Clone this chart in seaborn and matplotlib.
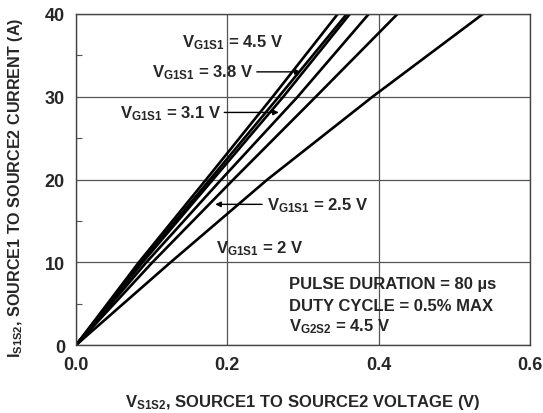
import numpy as np
import pandas as pd
import matplotlib
matplotlib.use('Agg')
import matplotlib.pyplot as plt
import seaborn as sns

# drain current steps (A) and the source-to-source voltage read at each step, per gate voltage
current = [0, 10, 20, 30, 40]
gate_v = ['4.5', '4.0', '3.8', '3.1', '2.5', '2']
v_45 = [0, 0.083, 0.172, 0.260, 0.346]
v_40 = [0, 0.086, 0.177, 0.268, 0.358]
v_38 = [0, 0.088, 0.181, 0.274, 0.362]
v_31 = [0, 0.093, 0.192, 0.293, 0.387]
v_25 = [0, 0.101, 0.208, 0.317, 0.425]
v_20 = [0, 0.125, 0.253, 0.392, 0.538]

xticks = [0.0, 0.2, 0.4, 0.6]
yticks = [0, 10, 20, 30, 40]

rows = []
for g, vs in zip(gate_v, [v_45, v_40, v_38, v_31, v_25, v_20]):
    for i, v in zip(current, vs):
        rows.append({'gate': g, 'vds': v, 'ids': i})
df = pd.DataFrame(rows)

sns.set_theme(style='white')
plt.rcParams['font.family'] = ['Liberation Sans', 'DejaVu Sans']
plt.rcParams['font.weight'] = 'bold'
plt.rcParams['mathtext.fontset'] = 'custom'
plt.rcParams['mathtext.rm'] = 'Liberation Sans:bold'
plt.rcParams['mathtext.bf'] = 'Liberation Sans:bold'
plt.rcParams['mathtext.default'] = 'rm'

fig = plt.figure(figsize=(5.43, 4.14), dpi=100)
ax = fig.add_axes([0.140, 0.164, 0.836, 0.800])

sns.lineplot(data=df, x='vds', y='ids', hue='gate', palette=['black'] * len(gate_v),
             linewidth=1.9, legend=False, ax=ax, sort=False, estimator=None)

ax.set_xlim(0, 0.6)
ax.set_ylim(0, 40)
ax.set_xticks(xticks)
ax.set_xticklabels([f'{t:.1f}' for t in xticks])
ax.set_yticks(yticks)
ax.set_yticks([5, 15, 25, 35], minor=True)
ax.grid(True, which='major', color='#555555', linewidth=0.9)
ax.tick_params(axis='both', which='major', labelsize=13, length=0, pad=8)
ax.tick_params(axis='y', which='minor', direction='in', length=4, width=0.8,
               color='#555555', left=True)
for lab in ax.get_xticklabels() + ax.get_yticklabels():
    lab.set_fontweight('bold')
for s in ax.spines.values():
    s.set_color('#444444')
    s.set_linewidth(1.0)

ax.set_xlabel(r'V$_{\rm S1S2}$, SOURCE1 TO SOURCE2 VOLTAGE (V)', fontsize=12,
              fontweight='bold')
ax.xaxis.set_label_coords(0.5, -0.142)
ax.set_ylabel(r'I$_{\rm S1S2}$, SOURCE1 TO SOURCE2 CURRENT (A)', fontsize=11.6,
              fontweight='bold')
ax.yaxis.set_label_coords(-0.112, 0.477)

fs = 12
arrow = dict(arrowstyle='-|>', color='black', lw=1.0, mutation_scale=8, shrinkA=0, shrinkB=0)
ax.text(0.207, 36.7, r'V$_{\rm G1S1}$ = 4.5 V', fontsize=fs, ha='center', va='center',
        fontweight='bold')
ax.annotate(r'V$_{\rm G1S1}$ = 3.8 V', xy=(0.297, 33.0), xytext=(0.101, 33.0),
            fontsize=fs, ha='left', va='center', fontweight='bold', arrowprops=arrow)
ax.annotate(r'V$_{\rm G1S1}$ = 3.1 V', xy=(0.268, 28.1), xytext=(0.058, 28.1),
            fontsize=fs, ha='left', va='center', fontweight='bold', arrowprops=arrow)
ax.annotate('', xy=(0.184, 17.0), xytext=(0.246, 17.0), arrowprops=arrow)
ax.text(0.253, 17.0, r'V$_{\rm G1S1}$ = 2.5 V', fontsize=fs, ha='left', va='center',
        fontweight='bold')
ax.text(0.185, 11.8, r'V$_{\rm G1S1}$ = 2 V', fontsize=fs, ha='left', va='center',
        fontweight='bold')
ax.text(0.282, 7.4, 'PULSE DURATION = 80 µs', fontsize=fs, ha='left', va='center',
        fontweight='bold')
ax.text(0.282, 4.8, 'DUTY CYCLE = 0.5% MAX', fontsize=fs, ha='left', va='center',
        fontweight='bold')
ax.text(0.282, 2.3, r'V$_{\rm G2S2}$ = 4.5 V', fontsize=fs, ha='left', va='center',
        fontweight='bold')

fig.savefig('out.png', dpi=100)
